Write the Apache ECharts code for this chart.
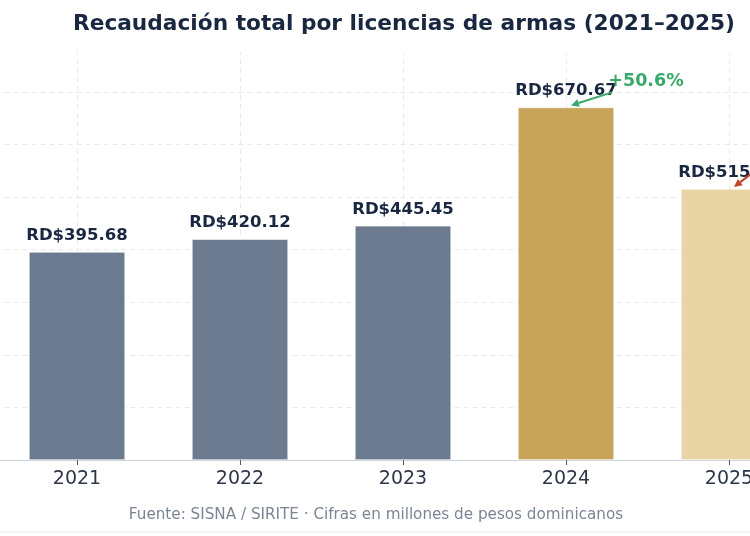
<!DOCTYPE html>
<html>
<head>
<meta charset="utf-8">
<script src="https://cdn.jsdelivr.net/npm/echarts@6/dist/echarts.min.js"></script>
<style>
html,body{margin:0;padding:0;background:#fff;}
#chart{width:750px;height:536px;}
</style>
</head>
<body>
<div id="chart"></div>
<script>
var years = ['2021', '2022', '2023', '2024', '2025'];
var values = [395.68, 420.12, 445.45, 670.67, 515.36];
var barColors = ['#6b7a8e', '#6b7a8e', '#6b7a8e', '#c8a45b', '#e8d4a4'];
var changes = [
  {from: 2, to: 3, text: '+50.6%', color: '#3aa86a'},
  {from: 3, to: 4, text: '\u221223.2%', color: '#c0452f'}
];
var titleText = 'Recaudaci\u00f3n total por licencias de armas (2021\u20132025)';
var footerText = 'Fuente: SISNA / SIRITE \u00b7 Cifras en millones de pesos dominicanos';

var chart = echarts.init(document.getElementById('chart'), null, {renderer: 'canvas'});
var FONT = 'DejaVu Sans';

var option = {
  animation: false,
  backgroundColor: '#ffffff',
  title: {
    text: titleText,
    left: 399, top: 8,
    textAlign: 'center',
    textStyle: {fontFamily: FONT, fontWeight: 'bold', fontSize: 21.7, color: '#1a2740'}
  },
  grid: {left: -4.5, right: -60.5, top: 52, bottom: 76, containLabel: false, outerBoundsMode: 'none'},
  xAxis: {
    type: 'category',
    data: years,
    axisLine: {show: true, lineStyle: {color: '#cbd2da', width: 1}},
    axisTick: {show: true, alignWithLabel: true, length: 5, lineStyle: {color: '#4a5568'}},
    axisLabel: {fontFamily: FONT, fontSize: 19, color: '#2d3748', margin: 10},
    splitLine: {show: false}
  },
  yAxis: {
    type: 'value',
    min: 0, max: 776, interval: 100,
    axisLine: {show: false},
    axisTick: {show: false},
    axisLabel: {show: false},
    splitLine: {show: true, showMaxLine: false, lineStyle: {color: '#e6e9ee', type: [5, 4], width: 1}}
  },
  series: [{
    type: 'bar',
    barWidth: '59%',
    data: values.map(function (v, i) {
      return {value: v, itemStyle: {color: barColors[i], borderColor: '#ffffff', borderWidth: 0.6}};
    }),
    label: {
      show: true, position: 'top', distance: 8,
      fontFamily: FONT, fontWeight: 'bold', fontSize: 16.5, color: '#1a2740',
      formatter: function (p) { return 'RD$' + p.value.toFixed(2); }
    },
    markLine: {
      silent: true, symbol: 'none', z: 0,
      label: {show: false},
      lineStyle: {color: '#e6e9ee', type: [5, 4], width: 1},
      data: years.map(function (y) { return {xAxis: y}; })
    }
  }]
};
chart.setOption(option);

function arrowGraphics(head, tail, color) {
  var ang = Math.atan2(head[1] - tail[1], head[0] - tail[0]);
  var L = 8, W = 4;
  var bx = head[0] - L * Math.cos(ang), by = head[1] - L * Math.sin(ang);
  var px = -Math.sin(ang) * W, py = Math.cos(ang) * W;
  return [
    {type: 'line', shape: {x1: tail[0], y1: tail[1], x2: bx, y2: by},
     style: {stroke: color, lineWidth: 2}, z: 100},
    {type: 'polygon', shape: {points: [head, [bx + px, by + py], [bx - px, by - py]]},
     style: {fill: color}, z: 100}
  ];
}

var g = [];
changes.forEach(function (c) {
  var top = chart.convertToPixel({seriesIndex: 0}, [c.to, values[c.to]]);
  var up = c.text.charAt(0) === '+';
  var head = [top[0] + 5, top[1] - 2];
  var tail = up ? [head[0] + 41, head[1] - 13] : [head[0] + 40, head[1] - 31];
  g = g.concat(arrowGraphics(head, tail, c.color));
  var tx = up ? tail[0] + 34 : tail[0] + 40;
  g.push({type: 'text', x: tx, y: tail[1] - 11, z: 100,
    style: {text: c.text, fontFamily: FONT, fontWeight: 'bold', fontSize: 17.5, fill: c.color,
            textAlign: 'center', textVerticalAlign: 'middle'}});
});
g.push({type: 'text', x: 376, y: 515, style: {text: footerText, fontFamily: FONT, fontSize: 15.2,
  fill: '#7b8594', textAlign: 'center', textVerticalAlign: 'middle'}});
g.push({type: 'line', shape: {x1: 0, y1: 532, x2: 750, y2: 532}, style: {stroke: '#e8ebef', lineWidth: 1}});
chart.setOption({graphic: g});
</script>
</body>
</html>
